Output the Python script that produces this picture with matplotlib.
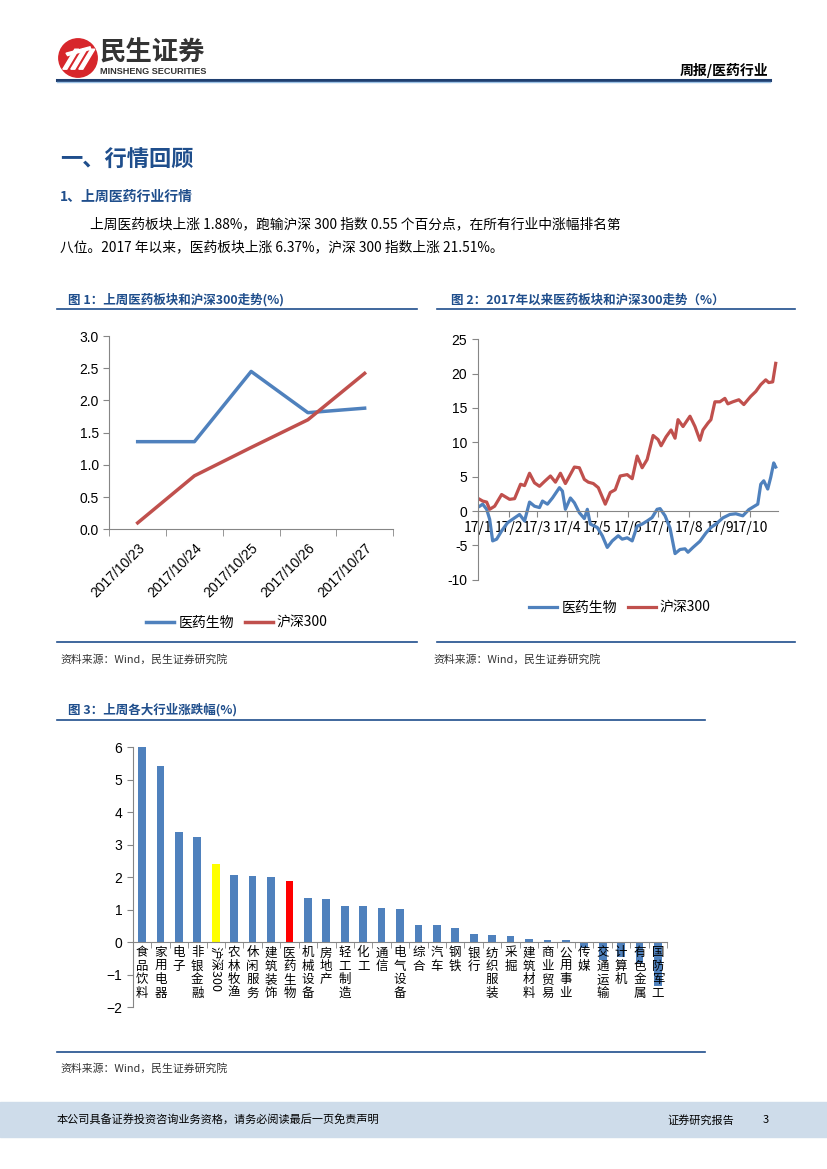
import numpy as np
import pandas as pd
import matplotlib
matplotlib.use('Agg')
import matplotlib.pyplot as plt
from matplotlib.lines import Line2D
from matplotlib.patches import Circle, Rectangle, Polygon

plt.rcParams['font.family'] = ['Noto Sans CJK SC', 'DejaVu Sans']

# ---------------- data ----------------
# 图1：上周医药板块和沪深300走势
week_dates = ['2017/10/23', '2017/10/24', '2017/10/25', '2017/10/26', '2017/10/27']
week_yiyao = [1.36, 1.36, 2.45, 1.81, 1.88]
week_hs300 = [0.10, 0.83, 1.27, 1.70, 2.42]

# 图2：2017年以来走势（距 2017-01-03 的天数，数值 %）
hs_days = [0, 3, 7, 10, 15, 22, 30, 35, 41, 45, 50, 55, 60, 65, 71, 76, 81, 86, 95, 100,
           105, 109, 114, 119, 126, 131, 136, 141, 148, 153, 158, 163, 168, 174, 179, 182,
           187, 192, 196, 199, 204, 211, 216, 221, 224, 229, 232, 236, 241, 246, 249, 254,
           260, 265, 272, 277, 282, 287, 290, 294, 297]
hs_vals = [1.7, 1.45, 1.3, 0.25, 0.7, 2.4, 1.7, 1.8, 3.9, 3.7, 5.5, 4.1, 3.6, 4.3, 5.1, 4.2,
           5.5, 4.0, 6.4, 6.3, 4.6, 4.2, 4.0, 3.4, 1.0, 2.7, 3.1, 5.1, 5.3, 4.7, 8.0, 6.3,
           7.5, 11.0, 10.4, 9.5, 10.8, 11.8, 10.6, 13.3, 12.3, 13.8, 12.3, 10.3, 11.8, 12.8,
           13.3, 15.9, 15.9, 16.4, 15.6, 15.9, 16.2, 15.5, 16.7, 17.4, 18.4, 19.1, 18.7,
           18.8, 21.5]
yy_days = [0, 3, 7, 10, 13, 17, 22, 28, 33, 40, 45, 50, 55, 60, 63, 68, 73, 80, 83, 86,
           91, 95, 100, 105, 108, 111, 118, 123, 128, 133, 139, 143, 148, 153, 158, 163,
           168, 173, 178, 181, 186, 191, 196, 201, 206, 209, 214, 221, 227, 232, 237, 244,
           251, 257, 264, 270, 279, 282, 285, 289, 292, 295, 297]
yy_vals = [0.7, 1.0, 0.25, -1.2, -4.35, -4.1, -2.9, -1.7, -1.2, -0.5, -1.45, 1.3, 0.7, 0.5,
           1.45, 1.0, 1.9, 3.4, 2.9, 0.25, 1.9, 1.2, -0.25, -1.1, 0.25, -1.9, -2.4, -3.6,
           -5.3, -4.35, -3.6, -4.1, -3.9, -4.35, -2.2, -1.9, -1.45, -0.95, 0.25, 0.35, -0.7,
           -2.5, -6.2, -5.6, -5.5, -6.0, -5.3, -4.4, -3.2, -2.4, -1.9, -1.0, -0.5, -0.4,
           -0.7, 0.2, 1.0, 3.9, 4.4, 3.2, 4.9, 7.0, 6.4]
month_labels = ['17/1', '17/2', '17/3', '17/4', '17/5', '17/6', '17/7', '17/8', '17/9', '17/10']

# 图3：上周各大行业涨跌幅
industries = ['食品饮料', '家用电器', '电子', '非银金融', '沪深300', '农林牧渔', '休闲服务',
              '建筑装饰', '医药生物', '机械设备', '房地产', '轻工制造', '化工', '通信',
              '电气设备', '综合', '汽车', '钢铁', '银行', '纺织服装', '采掘', '建筑材料',
              '商业贸易', '公用事业', '传媒', '交通运输', '计算机', '有色金属', '国防军工']
changes = [6.0, 5.43, 3.38, 3.25, 2.42, 2.07, 2.04, 2.0, 1.88, 1.37, 1.34, 1.12, 1.12, 1.07,
           1.01, 0.54, 0.52, 0.45, 0.27, 0.21, 0.18, 0.10, 0.08, 0.07, -0.19, -0.55, -0.45,
           -0.65, -1.35]

BLUE = '#4F81BD'
RED = '#C0504D'
NAVY = '#1F4E8C'
AXC = '#868686'

W, H = 827, 1169
fig = plt.figure(figsize=(W / 100, H / 100), dpi=100)


def box(l, t, r, b):
    return [l / W, 1 - b / H, (r - l) / W, (b - t) / H]


def ftext(x, y, s, **kw):
    fig.text(x / W, 1 - y / H, s, **kw)


def hline(x1, x2, y, color=NAVY, lw=1.2):
    fig.add_artist(Line2D([x1 / W, x2 / W], [1 - y / H, 1 - y / H], color=color, lw=lw,
                          transform=fig.transFigure))


# ---------------- header ----------------
logo = fig.add_axes(box(58, 38, 98, 78))
logo.set_xlim(0, 1)
logo.set_ylim(0, 1)
logo.axis('off')
logo.add_patch(Circle((0.5, 0.5), 0.48, color='#D7262B'))
for dx in [0.0, 0.2, 0.4]:
    logo.add_patch(Polygon([[0.12 + dx, 0.22], [0.22 + dx, 0.22], [0.52 + dx, 0.72],
                            [0.42 + dx, 0.72]], closed=True, color='white'))
logo.add_patch(Polygon([[0.2, 0.62], [0.8, 0.78], [0.82, 0.72], [0.24, 0.56]], color='white'))
ftext(100, 53, '民生证券', fontsize=19, fontweight='bold', color='#333333', va='center')
ftext(100, 71, 'MINSHENG SECURITIES', fontsize=6.6, fontweight='bold', color='#333333',
      va='center', family=['Liberation Sans', 'DejaVu Sans'])
ftext(768, 70, '周报/医药行业', fontsize=10, fontweight='bold', color='black', va='center',
      ha='right')
hline(57, 770, 80, color='#1F3F70', lw=2.2)
hline(57, 770, 82, color='#9DC3E6', lw=1)

# ---------------- section text ----------------
ftext(60, 160, '一、行情回顾', fontsize=16, fontweight='bold', color=NAVY, va='center')
ftext(60, 197, '1、上周医药行业行情', fontsize=10, fontweight='bold', color=NAVY, va='center')
ftext(90, 224, '上周医药板块上涨 1.88%，跑输沪深 300 指数 0.55 个百分点，在所有行业中涨幅排名第',
      fontsize=9.9, color='black', va='center')
ftext(60, 247, '八位。2017 年以来，医药板块上涨 6.37%，沪深 300 指数上涨 21.51%。',
      fontsize=9.9, color='black', va='center')

# ---------------- chart titles / rules ----------------
ftext(68, 300, '图 1：上周医药板块和沪深300走势(%)', fontsize=9, fontweight='bold',
      color=NAVY, va='center')
ftext(451, 300, '图 2：2017年以来医药板块和沪深300走势（%）', fontsize=9, fontweight='bold',
      color=NAVY, va='center')
hline(57, 417, 309)
hline(437, 795, 309)
hline(57, 417, 642)
hline(437, 795, 642)
ftext(60, 659, '资料来源：Wind，民生证券研究院', fontsize=7.8, color='#333333', va='center')
ftext(433, 659, '资料来源：Wind，民生证券研究院', fontsize=7.8, color='#333333', va='center')

ftext(68, 710, '图 3：上周各大行业涨跌幅(%)', fontsize=9, fontweight='bold', color=NAVY,
      va='center')
hline(57, 705, 720)
hline(57, 705, 1052)
ftext(60, 1068, '资料来源：Wind，民生证券研究院', fontsize=7.8, color='#333333', va='center')

# ---------------- chart 1 ----------------
ax1 = fig.add_axes(box(109.3, 336, 393, 529.3))
x1 = np.arange(len(week_dates))
l1, = ax1.plot(x1, week_yiyao, color=BLUE, lw=2.5, label='医药生物')
l2, = ax1.plot(x1, week_hs300, color=RED, lw=2.5, label='沪深300')
ax1.set_xlim(-0.5, len(week_dates) - 0.5)
ax1.set_ylim(0, 3)
ax1.set_yticks(np.arange(0, 3.01, 0.5))
ax1.set_yticklabels([f'{v:.1f}' for v in np.arange(0, 3.01, 0.5)], fontsize=10,
                    family=['Liberation Sans', 'DejaVu Sans'])
ax1.set_xticks(x1)
ax1.set_xticklabels(week_dates, rotation=45, ha='right', va='top', rotation_mode='anchor',
                    fontsize=10, family=['Liberation Sans', 'DejaVu Sans'])
ax1.set_xticks(np.arange(-0.5, len(week_dates), 1), minor=True)
ax1.tick_params(axis='x', which='major', length=0, pad=8)
ax1.tick_params(axis='x', which='minor', length=5, color=AXC)
ax1.tick_params(axis='y', length=4, color=AXC)
for s in ['top', 'right']:
    ax1.spines[s].set_visible(False)
for s in ['left', 'bottom']:
    ax1.spines[s].set_color(AXC)
fig.legend(handles=[l1, l2], loc='center', bbox_to_anchor=(237 / W, 1 - 623 / H), ncol=2,
           frameon=False, fontsize=10, handlelength=2.0, columnspacing=0.8, handletextpad=0.3)

# ---------------- chart 2 ----------------
ax2 = fig.add_axes(box(477.7, 339.3, 777.7, 579.7))
start = pd.Timestamp('2017-01-03')
hs_dates = start + pd.to_timedelta(hs_days, unit='D')
yy_dates = start + pd.to_timedelta(yy_days, unit='D')
m1, = ax2.plot(yy_dates, yy_vals, color=BLUE, lw=2.3, label='医药生物')
m2, = ax2.plot(hs_dates, hs_vals, color=RED, lw=2.3, label='沪深300')
ax2.set_xlim(pd.Timestamp('2017-01-01'), pd.Timestamp('2017-10-29'))
ax2.set_ylim(-10, 25)
ax2.set_yticks(np.arange(-10, 26, 5))
ax2.set_yticklabels([str(v) for v in range(-10, 26, 5)], fontsize=10,
                    family=['Liberation Sans', 'DejaVu Sans'])
month_starts = pd.date_range('2017-01-01', '2017-10-01', freq='MS')
ax2.set_xticks(month_starts)
ax2.set_xticklabels(month_labels, fontsize=11, family=['Liberation Serif', 'DejaVu Serif'])
ax2.spines['bottom'].set_position(('data', 0))
ax2.tick_params(axis='x', length=4, color=AXC, pad=3)
ax2.tick_params(axis='y', length=4, color=AXC)
for s in ['top', 'right']:
    ax2.spines[s].set_visible(False)
for s in ['left', 'bottom']:
    ax2.spines[s].set_color(AXC)
fig.legend(handles=[m1, m2], loc='center', bbox_to_anchor=(620 / W, 1 - 608 / H), ncol=2,
           frameon=False, fontsize=10, handlelength=2.0, columnspacing=0.8, handletextpad=0.3)

# ---------------- chart 3 ----------------
ax3 = fig.add_axes(box(132.8, 747.3, 667.2, 1007.3))
x3 = np.arange(len(industries))
colors = []
for name in industries:
    if name == '沪深300':
        colors.append('#FFFF00')
    elif name == '医药生物':
        colors.append('#FF0000')
    else:
        colors.append(BLUE)
ax3.bar(x3, changes, width=0.42, color=colors, zorder=1)
ax3.set_xlim(-0.5, len(industries) - 0.5)
ax3.set_ylim(-2, 6)
ax3.set_yticks(np.arange(-2, 7, 1))
ax3.tick_params(axis='y', labelsize=10, length=4, color=AXC)
for lab in ax3.get_yticklabels():
    lab.set_family(['Liberation Sans', 'DejaVu Sans'])
ax3.spines['bottom'].set_position(('data', 0))
ax3.set_xticks(x3)
labels = [n if n == '沪深300' else '\n'.join(n) for n in industries]
ax3.set_xticklabels(labels, fontsize=9, linespacing=1.05, va='top', ha='center')
for lab, n in zip(ax3.get_xticklabels(), industries):
    if n == '沪深300':
        lab.set_rotation(-90)
ax3.set_xticks(np.arange(-0.5, len(industries), 1), minor=True)
ax3.tick_params(axis='x', which='major', length=0, pad=3)
ax3.tick_params(axis='x', which='minor', length=4, color=AXC)
for s in ['top', 'right']:
    ax3.spines[s].set_visible(False)
for s in ['left', 'bottom']:
    ax3.spines[s].set_color(AXC)

# ---------------- footer ----------------
fig.add_artist(Rectangle((0, 1 - 1137 / H), 1, 35 / H, transform=fig.transFigure,
                         color='#CEDCEA', zorder=0))
ftext(57, 1120, '本公司具备证券投资咨询业务资格，请务必阅读最后一页免责声明', fontsize=8,
      color='black', va='center')
ftext(667, 1120, '证券研究报告', fontsize=8, color='black', va='center')
ftext(763, 1120, '3', fontsize=8, color='black', va='center')

fig.savefig('out.png', dpi=100)
